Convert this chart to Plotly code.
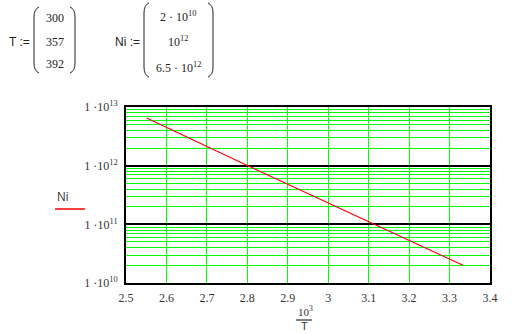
import plotly.graph_objects as go

# Data
T = [300, 357, 392]
Ni = [2e10, 1e12, 6.5e12]
x_vals = [1000.0 / t for t in T]

x_ticks = [2.5, 2.6, 2.7, 2.8, 2.9, 3.0, 3.1, 3.2, 3.3, 3.4]
x_ticklabels = ["2.5", "2.6", "2.7", "2.8", "2.9", "3", "3.1", "3.2", "3.3", "3.4"]
y_decades = [1e10, 1e11, 1e12, 1e13]
y_decade_labels = ["1 ·10<sup>10</sup>", "1 ·10<sup>11</sup>", "1 ·10<sup>12</sup>", "1 ·10<sup>13</sup>"]
y_minor = [m * 10 ** e for e in (10, 11, 12) for m in range(2, 10)]

T_labels = ["300", "357", "392"]
Ni_labels = ["2 · 10<sup>10</sup>", "10<sup>12</sup>", "6.5 · 10<sup>12</sup>"]

W, H = 517, 334
L, R, TOP, BOT = 126, 490, 107, 283


def px(x):
    return (x - L) / (R - L)


def py(y):
    return (BOT - y) / (BOT - TOP)


GREEN = "#00FF00"
SERIF = "Liberation Serif, serif"
SANS = "Liberation Sans, Arial, sans-serif"

fig = go.Figure()
fig.add_trace(go.Scatter(x=x_vals, y=Ni, mode="lines",
                         line=dict(color="#FF0000", width=1.1),
                         showlegend=False, hoverinfo="skip"))
fig.add_trace(go.Scatter(x=x_vals, y=Ni, mode="lines", yaxis="y2",
                         line=dict(color="rgba(0,0,0,0)", width=0),
                         showlegend=False, hoverinfo="skip"))

fig.update_layout(
    width=W, height=H,
    margin=dict(l=L, r=W - R, t=TOP, b=H - BOT, pad=0),
    paper_bgcolor="white", plot_bgcolor="white",
    showlegend=False,
    xaxis=dict(range=[2.5, 3.4], tickvals=x_ticks, ticktext=x_ticklabels,
               showgrid=True, gridcolor=GREEN, gridwidth=1.3,
               zeroline=False, showline=True, linecolor="black", linewidth=2,
               mirror=True, ticks="outside", ticklen=3,
               tickcolor="rgba(0,0,0,0)",
               tickfont=dict(family=SERIF, size=12, color="#333")),
    yaxis=dict(type="log", range=[10, 13], tickvals=y_minor,
               showticklabels=False,
               showgrid=True, gridcolor=GREEN, gridwidth=1.3,
               zeroline=False, showline=True, linecolor="black", linewidth=2,
               mirror=True, ticks=""),
    yaxis2=dict(type="log", range=[10, 13], overlaying="y", side="left",
                tickvals=y_decades, ticktext=y_decade_labels,
                showgrid=True, gridcolor="black", gridwidth=1.5,
                zeroline=False, showline=False, ticks="outside", ticklen=5,
                tickcolor="rgba(0,0,0,0)",
                tickfont=dict(family=SERIF, size=12, color="#333")),
)

ann = []
shapes = []


def text(x, y, s, family, size, color="#222"):
    ann.append(dict(x=px(x), y=py(y), xref="paper", yref="paper", text=s,
                    xanchor="center", yanchor="middle", showarrow=False,
                    font=dict(family=family, size=size, color=color)))


# Axis titles
text(62, 197, "Ni", SANS, 12, "#444")
shapes.append(dict(type="line", xref="paper", yref="paper",
                   x0=px(55), x1=px(85), y0=py(209), y1=py(209),
                   line=dict(color="#FF0000", width=1.5)))
text(305, 311, "10<sup>3</sup>", SERIF, 11, "#333")
shapes.append(dict(type="line", xref="paper", yref="paper",
                   x0=px(296), x1=px(312), y0=py(320), y1=py(320),
                   line=dict(color="black", width=1)))
text(304, 326, "T", SANS, 11, "#333")

# Worksheet definitions
text(20, 42, "T :=", SANS, 12)
for lbl, yy in zip(T_labels, [18, 42, 64]):
    text(55, yy, lbl, SERIF, 12)
text(127, 42, "Ni :=", SANS, 12)
for lbl, yy in zip(Ni_labels, [16, 41, 68]):
    text(178, yy, lbl, SERIF, 12)


def paren(xe, xm, y0, y1):
    # xe: x at the ends, xm: x of the vertical stroke
    d = (f"M {px(xe)},{py(y0)} Q {px(xm)},{py(y0 + 2)} {px(xm)},{py(y0 + 10)} "
         f"L {px(xm)},{py(y1 - 10)} Q {px(xm)},{py(y1 - 2)} {px(xe)},{py(y1)}")
    return dict(type="path", xref="paper", yref="paper", path=d,
                line=dict(color="#222", width=1))


shapes.append(paren(39, 34, 7, 73))
shapes.append(paren(70, 75, 7, 73))
shapes.append(paren(149, 144, 3, 77))
shapes.append(paren(208, 213, 3, 77))

fig.update_layout(annotations=ann, shapes=shapes)
fig.write_html("out.html")
